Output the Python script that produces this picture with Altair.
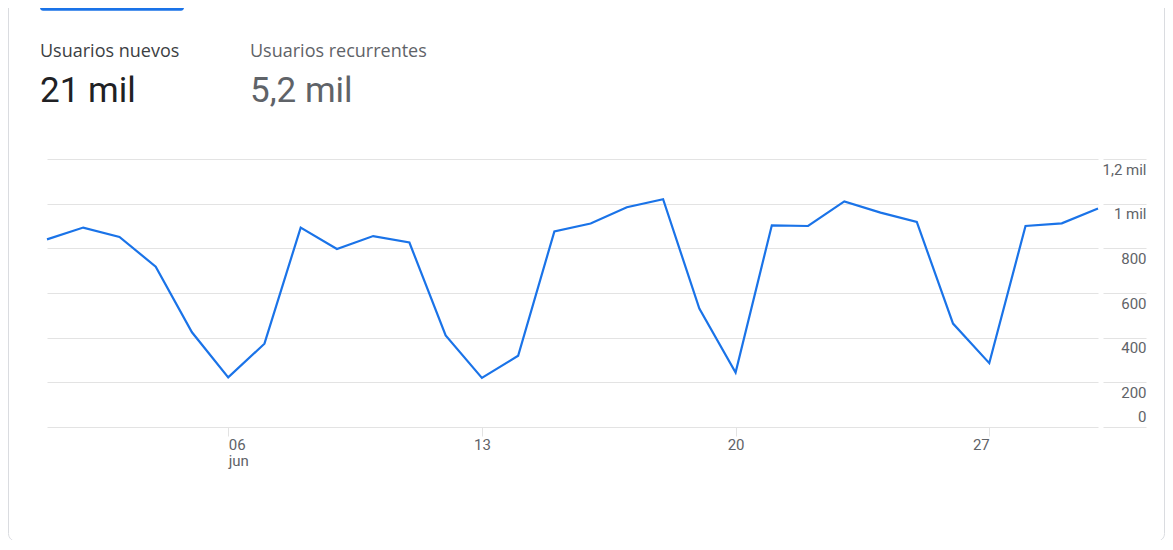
import altair as alt
import pandas as pd

# ---- data ----
days = list(range(1, 31))
new_users = [840, 893, 851, 718, 424, 222, 373, 893, 797, 855, 826, 410, 220, 319,
             876, 911, 984, 1020, 530, 244, 903, 900, 1010, 960, 918, 463, 286, 900,
             912, 978]
y_ticks = [0, 200, 400, 600, 800, 1000, 1200]
x_tick_days = [6, 13, 20, 27]

header_labels = ["Usuarios nuevos", "Usuarios recurrentes"]
header_values = ["21 mil", "5,2 mil"]

df = pd.DataFrame({
    "date": [f"2021-06-{d:02d}" for d in days],
    "value": new_users,
})

BLUE = "#1a73e8"
GRID = "#e3e3e3"
LABEL = "#5f6368"
FONT = "Roboto"
HEAD_FONT = "Open Sans"

x_values = [alt.DateTime(year=2021, month=6, date=d, utc=True) for d in x_tick_days]

line = alt.Chart(df).mark_line(color=BLUE, strokeWidth=2.2).encode(
    x=alt.X(
        "date:T",
        scale=alt.Scale(type="utc",
                        domain=[alt.DateTime(year=2021, month=6, date=1, utc=True),
                                alt.DateTime(year=2021, month=6, date=30, utc=True)]),
        axis=alt.Axis(
            title=None,
            values=x_values,
            grid=False,
            domain=False,
            tickSize=9,
            tickColor=GRID,
            labelPadding=1,
            labelFont=FONT,
            labelFontSize=15,
            labelColor=LABEL,
            labelLineHeight=16,
            labelAlign={"condition": [
                {"test": "utcdate(datum.value) == 6", "value": "left"},
                {"test": "utcdate(datum.value) == 27", "value": "right"}],
                "value": "center"},
            labelExpr="utcdate(datum.value) == 6 ? [utcFormat(datum.value, '%d'), 'jun'] : utcFormat(datum.value, '%d')",
        ),
    ),
    y=alt.Y(
        "value:Q",
        scale=alt.Scale(domain=[0, 1200], nice=False, zero=True),
        axis=alt.Axis(
            title=None,
            orient="right",
            values=y_ticks,
            grid=True,
            gridColor=GRID,
            domain=False,
            tickSize=48,
            tickColor=GRID,
            tickDash=[0, 5, 43],
            labelPadding=0,
            labelAlign="right",
            labelBaseline="middle",
            labelOffset={"condition": {"test": "datum.value == 0", "value": -11}, "value": 10},
            labelFont=FONT,
            labelFontSize=15,
            labelColor=LABEL,
            labelExpr="datum.value >= 1000 ? replace(format(datum.value / 1000, '.1~f'), '.', ',') + ' mil' : format(datum.value, 'd')",
        ),
    ),
)

one = alt.Data(values=[{}])

card = alt.Chart(one).mark_rect(
    fillOpacity=0, stroke="#dadce0", strokeWidth=1, cornerRadius=8
).encode(
    x=alt.value(-38.5), x2=alt.value(1117.5),
    y=alt.value(-160), y2=alt.value(382.5),
)

tab = alt.Chart(one).mark_rect(fill=BLUE, cornerRadius=3).encode(
    x=alt.value(-7), x2=alt.value(137),
    y=alt.value(-165), y2=alt.value(-148.3),
)

lab1 = alt.Chart(one).mark_text(
    text=header_labels[0], align="left", baseline="alphabetic",
    fontSize=18, color="#3c4043", font=HEAD_FONT
).encode(x=alt.value(-7), y=alt.value(-101.7))
lab2 = alt.Chart(one).mark_text(
    text=header_labels[1], align="left", baseline="alphabetic",
    fontSize=18, color=LABEL, font=HEAD_FONT
).encode(x=alt.value(203), y=alt.value(-101.7))
val1 = alt.Chart(one).mark_text(
    text=header_values[0], align="left", baseline="alphabetic",
    fontSize=35, color="#202124", font=FONT
).encode(x=alt.value(-7), y=alt.value(-57.3))
val2 = alt.Chart(one).mark_text(
    text=header_values[1], align="left", baseline="alphabetic",
    fontSize=35, color=LABEL, font=FONT
).encode(x=alt.value(203), y=alt.value(-57.3))

chart = alt.layer(card, tab, line, lab1, lab2, val1, val2).properties(
    width=1051, height=268,
    autosize=alt.AutoSizeParams(type="none"),
    padding={"left": 39, "top": 151, "right": 67, "bottom": 113},
    background="white",
).configure_view(stroke=None, strokeWidth=0)

chart.save("out.html", embed_options={"renderer": "svg", "actions": False})
